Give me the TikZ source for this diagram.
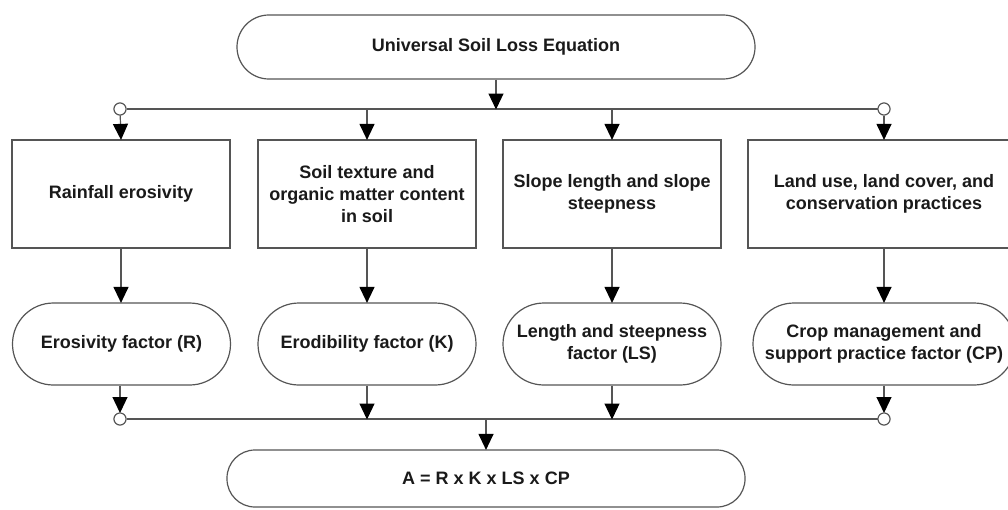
\documentclass[tikz,border=0pt]{standalone}
\usepackage{fontspec}
\setmainfont{Liberation Sans}
\usetikzlibrary{arrows.meta}
\definecolor{edge}{HTML}{555555}
\definecolor{ink}{HTML}{1A1A1A}
\begin{document}
\begin{tikzpicture}[x=1pt,y=-1pt,
  every node/.style={font=\fontsize{18}{22}\selectfont\bfseries, text=ink, align=center, inner sep=0pt},
  factorbox/.style={draw=edge, line width=1.2pt, fill=white, minimum width=218pt, minimum height=108pt},
  pillbox/.style={draw=edge, line width=1.2pt, fill=white, rounded corners=40.9pt, minimum width=218pt, minimum height=82pt},
  dot/.style={circle, draw=edge, line width=1pt, fill=white, minimum size=12pt},
  conn/.style={draw=edge, line width=1.2pt},
  arr/.style={conn, -{Triangle[width=15pt,length=16pt,color=black,fill=black]}, shorten >=-0.5pt}
]
\useasboundingbox (0,0) rectangle (1008,509);
\clip (0,0) rectangle (1008,509);

% top node
\node[draw=edge, line width=1.2pt, fill=white, rounded corners=31.9pt, minimum width=518pt, minimum height=64pt] (usle) at (496,47) {Universal Soil Loss Equation};

% top distribution line
\coordinate (tj) at (496,109);
\node[dot] (ct1) at (120,109) {};
\node[dot] (ct4) at (884,109) {};

% factor boxes
\node[factorbox] (b1) at (121,194) {Rainfall erosivity};
\node[factorbox] (b2) at (367,194) {Soil texture and\\organic matter content\\in soil};
\node[factorbox] (b3) at (612,194) {Slope length and slope\\steepness};
\node[factorbox, minimum width=272pt] (b4) at (884,194) {Land use, land cover, and\\conservation practices};

% factor pills
\node[pillbox] (p1) at (121.5,344) {Erosivity factor (R)};
\node[pillbox] (p2) at (367,344) {Erodibility factor (K)};
\node[pillbox] (p3) at (612,344) {Length and steepness\\factor (LS)};
\node[pillbox, minimum width=262pt] (p4) at (884,344) {Crop management and\\support practice factor (CP)};

% bottom collecting line
\node[dot] (cb1) at (120,419) {};
\node[dot] (cb4) at (884,419) {};
\coordinate (bj) at (486,419);

% result
\node[draw=edge, line width=1.2pt, fill=white, rounded corners=28pt, minimum width=518pt, minimum height=57pt] (res) at (486,478.5) {A = R x K x LS x CP};

% connectors top
\draw[conn] (ct1) -- (ct4);
\draw[arr] (usle.south) -- (tj);
\draw[arr] (ct1) -- (b1.north);
\draw[arr] (367,109) -- (b2.north);
\draw[arr] (612,109) -- (b3.north);
\draw[arr] (ct4) -- (b4.north);
\node[dot] at (120,109) {};
\node[dot] at (884,109) {};

% boxes to pills
\draw[arr] (b1.south) -- (p1.north -| b1.south);
\draw[arr] (b2.south) -- (p2.north);
\draw[arr] (b3.south) -- (p3.north);
\draw[arr] (b4.south) -- (p4.north);

% pills to bottom line
\draw[conn] (cb1) -- (cb4);
\draw[arr] (p1.south -| cb1) -- (cb1.north);
\draw[arr] (p2.south) -- (367,419);
\draw[arr] (p3.south) -- (612,419);
\draw[arr] (p4.south) -- (cb4.north);
\node[dot] at (120,419) {};
\node[dot] at (884,419) {};
\draw[arr] (bj) -- (res.north);
\end{tikzpicture}
\end{document}
